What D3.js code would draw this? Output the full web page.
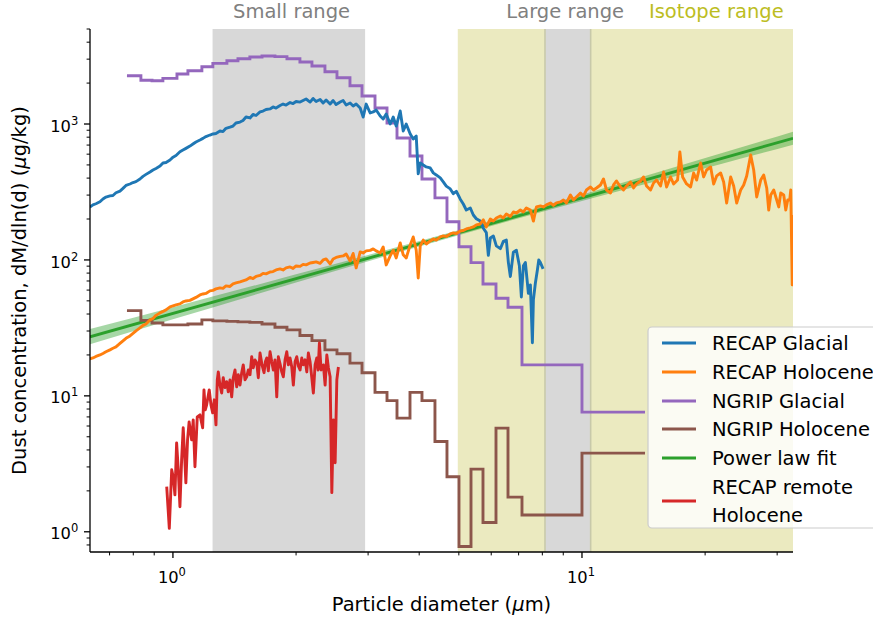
<!DOCTYPE html>
<html><head><meta charset="utf-8">
<script src="https://cdn.jsdelivr.net/npm/d3@7"></script>
<style>body{margin:0;background:#fff} svg{display:block;font-family:"DejaVu Sans",sans-serif}</style>
</head><body><svg id="chart" width="873" height="620"></svg>
<script>
// ---------------- data ----------------
const xDomain = [0.627, 32.8];
const yDomain = [0.71, 5000];
const yMajorTicks = [1, 10, 100, 1000];
const xMajorTicks = [1, 10];

const smallRange = [1.25, 2.95];
const largeRange = [8.12, 10.5];
const isotopeRange = [4.97, 32.8];
const rangeLabels = ["Small range", "Large range", "Isotope range"];
const rangeLabelX = [1.95, 9.1, 21.3];

const seriesNames = ["RECAP Glacial", "RECAP Holocene", "NGRIP Glacial", "NGRIP Holocene", "Power law fit", "RECAP remote\nHolocene"];
const seriesColors = ["#1f77b4", "#ff7f0e", "#9467bd", "#8c564b", "#2ca02c", "#d62728"];

// NGRIP (Coulter counter) bin edges, µm
const ngripEdges = [0.772,0.835,0.889,0.945,1.023,1.088,1.177,1.252,1.355,1.442,1.542,1.651,1.776,1.900,2.044,2.187,2.353,2.518,2.709,2.899,3.119,3.337,3.530,3.798,4.063,4.371,4.677,5.004,5.354,5.728,6.163,6.594,7.134,10.0,14.26];
const ngripGlacial = [2265,2100,2080,2168,2331,2466,2638,2795,2920,3020,3109,3162,3133,3020,2858,2670,2424,2190,1912,1607,1311,1017,789,582,394,286,191,125,95.5,66.6,52.3,44.9,16.9,7.59];
const ngripHolocene = [42.4,35.9,34.4,33.3,33.3,33.8,36.2,35.6,35.3,35.0,34.7,33.8,32.0,30.6,27.8,25.5,21.8,20.4,17.4,14.8,10.6,9.23,6.86,10.6,9.23,4.61,2.54,0.78,2.89,1.17,5.79,1.80,1.33,3.79];

// RECAP Glacial
const recapGlacialX = [0.6267,0.6374,0.6483,0.6631,0.6744,0.6859,0.7015,0.7135,0.7256,0.7422,0.7549,0.7677,0.7852,0.7986,0.8122,0.8307,0.8449,0.8593,0.8789,0.8939,0.9091,0.9298,0.9457,0.9618,0.9837,1.0005,1.0175,1.0402,1.0580,1.0760,1.1005,1.1193,1.1384,1.1643,1.1842,1.2043,1.2318,1.2529,1.2742,1.3032,1.3255,1.3480,1.3788,1.4024,1.4262,1.4587,1.4836,1.5089,1.5433,1.5697,1.5964,1.6328,1.6607,1.6890,1.7275,1.7570,1.7869,1.8276,1.8589,1.8905,1.9336,1.9667,2.0001,2.0457,2.0807,2.1161,2.1643,2.2013,2.2388,2.2898,2.3290,2.3686,2.4226,2.4640,2.5059,2.5631,2.6069,2.6513,2.7117,2.7581,2.8050,2.8689,2.9180,2.9676,3.0353,3.0872,3.1397,3.2113,3.2662,3.3218,3.3975,3.4556,3.5144,3.5945,3.6560,3.7182,3.8029,3.8679,3.9337,3.978,4.0234,4.0922,4.1618,4.2567,4.3295,4.4032,4.5035,4.5805,4.6585,4.7647,4.8462,4.9287,5.0409,5.1271,5.2143,5.3332,5.4244,5.5167,5.6425,5.7390,5.8366,5.903,5.9697,6.0718,6.1751,6.3158,6.4238,6.5331,6.607,6.6820,6.7963,6.9119,7.030,7.109,7.1904,7.272,7.396,7.4794,7.564,7.6073,7.693,7.780,7.841,7.9131,8.034];
const recapGlacial = [245,254,259,268,281,290,296,298,312,321,336,353,362,371,377,394,412,426,444,459,471,490,517,521,544,570,587,625,644,662,688,713,738,763,784,809,830,845,852,888,880,929,947,966,1017,1034,1062,1126,1108,1176,1155,1227,1246,1279,1291,1334,1311,1368,1402,1379,1438,1414,1463,1450,1489,1527,1450,1541,1463,1514,1426,1502,1402,1489,1391,1450,1489,1379,1426,1357,1402,1311,1126,1402,1205,1227,1268,1146,1089,1185,1000,1126,966,1246,888,1000,845,776,815,430,517,499,483,475,437,422,401,375,349,333,307,320,280,258,233,241,214,201,193,171,159,108,145,150,127,121,137,140,96,75.6,114,118,90.5,53.4,90.5,95.6,56.8,65.5,24.6,50.8,67.7,84.4,100,95.6,86];

// RECAP Holocene
const recapHoloceneX = [0.6267,0.6374,0.6483,0.6631,0.6744,0.6859,0.7015,0.7135,0.7256,0.7422,0.7549,0.7677,0.7852,0.7986,0.8122,0.8307,0.8449,0.8593,0.8789,0.8939,0.9091,0.9298,0.9457,0.9618,0.9837,1.0005,1.0175,1.0402,1.0580,1.0760,1.1005,1.1193,1.1384,1.1643,1.1842,1.2043,1.2318,1.2529,1.2742,1.3032,1.3255,1.3480,1.3788,1.4024,1.4262,1.4587,1.4836,1.5089,1.5433,1.5697,1.5964,1.6328,1.6607,1.6890,1.7275,1.7570,1.7869,1.8276,1.8589,1.8905,1.9336,1.9667,2.0001,2.0457,2.0807,2.1161,2.1643,2.2013,2.2388,2.2898,2.3290,2.3686,2.4226,2.4640,2.5059,2.5631,2.6069,2.6513,2.7117,2.7581,2.8050,2.8689,2.9180,2.9676,3.0353,3.0872,3.1397,3.2113,3.2662,3.3218,3.3975,3.4556,3.5144,3.5945,3.6560,3.7182,3.8029,3.8679,3.9337,3.978,4.0234,4.0922,4.1618,4.2567,4.3295,4.4032,4.5035,4.5805,4.6585,4.7647,4.8462,4.9287,5.0409,5.1271,5.2143,5.3332,5.4244,5.5167,5.6425,5.7390,5.8366,5.9697,6.0718,6.1751,6.3158,6.4238,6.5331,6.6820,6.7963,6.9119,7.0695,7.1904,7.3127,7.4794,7.6073,7.7368,7.9131,8.0484,8.1854,8.3720,8.5152,8.6600,8.8574,9.0089,9.1622,9.3710,9.5312,9.6934,9.9144,10.084,10.256,10.489,10.669,10.850,11.098,11.287,11.480,11.741,11.942,12.146,12.422,12.634,12.850,13.142,13.367,13.594,13.905,14.143,14.383,14.711,14.963,15.217,15.564,15.830,16.100,16.466,16.748,17.128,17.35,17.62,18.020,18.431,18.746,19.065,19.500,19.833,20.171,20.631,20.984,21.341,21.827,22.200,22.578,23.093,23.488,23.888,24.432,24.850,25.273,25.849,26.291,26.738,27.348,27.816,28.289,28.61,28.933,29.428,29.929,30.27,30.611,31.134,31.49,31.84,32.20,32.39,32.66,32.8];
const recapHolocene = [18.7,19.0,19.5,20.0,20.5,21.1,21.8,22.4,22.9,24.3,25.4,26.5,27.6,28.8,30.1,31.6,33.0,33.8,36.2,37.1,39.1,40.8,41.8,42.9,45.1,45.9,46.7,47.5,49.1,49.9,50.4,51.7,53.0,55.3,56.2,56.7,59.2,59.7,61.2,62.3,61.8,64.4,63.8,66.6,67.7,68.9,70.1,71.3,74.3,73.0,75.6,76.9,79.6,78.9,81.6,82.1,84.4,85.9,84.4,87.4,88.8,86.6,90.3,89.6,92.7,91.9,95.0,95.8,96.7,94.3,100,101.7,93.4,101.7,104.3,106.1,107.0,110.7,98.3,111.6,87.4,114.5,112.6,116.5,117.5,120.5,116.5,112.6,124.6,91.9,107.0,118,103.4,133.4,109,103.4,129,147.6,118,73.7,127,140,131,138,142.7,140,147.6,150.1,148.9,155.3,157.9,156.6,163.4,164.7,169.0,171.9,174.8,181,183.9,197,174.8,200.2,193.5,203.6,210.7,203.6,217.9,208.9,225.4,221.6,233,225.4,241.2,233,193,245.3,249.5,245.3,254,262.5,251.6,262.5,267.0,276,262.5,300.6,276,290.6,310.9,295.6,327,344.2,327,338.4,356,394.1,327,310.9,356,381,344.2,327,350.2,374.6,338.4,362.2,381,407.8,350.2,327,368.4,387,350.2,443.7,344.2,407.8,362.2,387,622.6,407.8,362.2,344.2,436.2,387,516.8,407.8,459,483,362.2,414.8,436.2,374.6,262.5,407.8,350.2,262.5,327,356,414.8,592,459,290.6,387,421.7,338.4,233,300.6,327,276,245.3,310.9,300.6,233,276,276,327,65.5,214];

// RECAP remote Holocene
const recapRemoteX = [0.9656,0.9798,0.9931,1.0029,1.0113,1.0210,1.0306,1.0402,1.0502,1.0596,1.0679,1.0756,1.0858,1.0954,1.1111,1.121,1.132,1.1468,1.1643,1.1822,1.191,1.1997,1.2091,1.2269,1.2388,1.2508,1.262,1.2742,1.2837,1.2909,1.3032,1.3157,1.3274,1.3405,1.3534,1.3655,1.3788,1.392,1.4045,1.4182,1.4319,1.4447,1.4587,1.4727,1.4858,1.5004,1.5149,1.5284,1.5433,1.5581,1.572,1.5874,1.6027,1.6171,1.6328,1.6513,1.67,1.6824,1.6957,1.7109,1.7275,1.7441,1.7596,1.7769,1.794,1.8101,1.8276,1.8451,1.8616,1.8799,1.898,1.915,1.9336,1.9522,1.9696,1.9889,2.0081,2.026,2.0457,2.0653,2.0838,2.1042,2.1245,2.1435,2.1643,2.1851,2.2046,2.2262,2.2476,2.2643,2.2807,2.3028,2.3324,2.3553,2.378,2.3993,2.4226,2.4459,2.4677,2.4919,2.5159,2.5384];
const recapRemote = [2.15,1.06,2.86,2.49,1.87,4.51,2.86,1.53,3.38,5.82,3.68,2.29,4.75,6.44,4.75,6.66,3.01,7.01,7.25,5.82,11.07,7.89,8.59,11.07,8.59,7.50,9.35,6.12,13.1,15.0,12.0,10.5,13.6,11.5,12.7,10.7,13.1,9.83,13.6,15.5,11.65,14.3,12.0,14.8,16.9,13.1,13.8,15.5,14.3,19.4,16.1,18.4,17.5,13.6,20.7,16.9,14.8,17.8,19.0,15.3,21.1,17.8,15.5,18.4,9.83,19.4,17.2,15.0,13.8,18.4,21.1,16.9,19.0,16.3,12.0,17.8,19.4,16.6,15.5,19.0,16.9,18.4,15.0,20.7,17.8,13.6,10.5,16.9,19.0,15.5,24.5,15.5,16.9,12.0,20.0,16.1,13.8,1.94,6.66,3.22,13.1,16.3];

// Power law fit (line end points) and its confidence band
const fitX = [0.627, 32.8];
const fitY = [27.2, 785];
const fitBandX = [0.627, 1, 2, 3.5, 5.3, 8, 14, 22, 32.8];
const fitBandLow = [24.0, 36.6, 68.2, 111.9, 160.1, 225.9, 355.7, 510.9, 703.8];
const fitBandHigh = [31.0, 44.9, 78.3, 123.3, 174.2, 248.7, 408.2, 611.6, 877.0];

// ---------------- drawing ----------------
const W = 873, H = 620;
const M = {left: 90, right: 80, top: 29, bottom: 68};
const svg = d3.select("#chart");
const x = d3.scaleLog().domain(xDomain).range([M.left, W - M.right]);
const y = d3.scaleLog().domain(yDomain).range([H - M.bottom, M.top]);
const LW = 2.9;

svg.append("defs").append("clipPath").attr("id", "clip")
  .append("rect").attr("x", M.left).attr("y", M.top)
  .attr("width", W - M.left - M.right).attr("height", H - M.top - M.bottom);

const bands = svg.append("g");
function band(r, fill) {
  return bands.append("rect").attr("x", x(r[0])).attr("y", M.top)
    .attr("width", x(r[1]) - x(r[0])).attr("height", H - M.top - M.bottom).attr("fill", fill);
}
band(isotopeRange, "rgb(235,234,192)");
band(smallRange, "rgb(216,216,216)");
band(largeRange, "rgb(216,216,216)");
[largeRange[0], largeRange[1]].forEach(v => {
  bands.append("line").attr("x1", x(v)).attr("x2", x(v)).attr("y1", M.top).attr("y2", H - M.bottom)
    .attr("stroke", "rgb(200,201,170)").attr("stroke-width", 1.6);
});

const rangeColors = ["#808080", "#808080", "#bcbd22"];
rangeLabels.forEach((t, i) => {
  svg.append("text").attr("x", x(rangeLabelX[i])).attr("y", 18).attr("text-anchor", "middle")
    .attr("font-size", 19.5).attr("fill", rangeColors[i]).text(t);
});

const plot = svg.append("g").attr("clip-path", "url(#clip)");
const line = d3.line().x(d => x(d[0])).y(d => y(d[1]));
const stepLine = d3.line().x(d => x(d[0])).y(d => y(d[1])).curve(d3.curveStepAfter);

// fit band + fit line
const bandData = fitBandX.map((v, i) => [v, fitBandLow[i], fitBandHigh[i]]);
plot.append("path").datum(bandData)
  .attr("d", d3.area().x(d => x(d[0])).y0(d => y(d[1])).y1(d => y(d[2])).curve(d3.curveMonotoneX))
  .attr("fill", "#2ca02c").attr("fill-opacity", 0.42);
plot.append("path").datum(d3.zip(fitX, fitY)).attr("d", line)
  .attr("fill", "none").attr("stroke", seriesColors[4]).attr("stroke-width", LW);

function stepData(edges, vals) {
  const pts = vals.map((v, i) => [edges[i], v]);
  pts.push([edges[edges.length - 1], vals[vals.length - 1]]);
  return pts;
}
plot.append("path").datum(stepData(ngripEdges, ngripGlacial)).attr("d", stepLine)
  .attr("fill", "none").attr("stroke", seriesColors[2]).attr("stroke-width", LW);
plot.append("path").datum(stepData(ngripEdges, ngripHolocene)).attr("d", stepLine)
  .attr("fill", "none").attr("stroke", seriesColors[3]).attr("stroke-width", LW);

[[recapGlacialX, recapGlacial, 0], [recapHoloceneX, recapHolocene, 1], [recapRemoteX, recapRemote, 5]].forEach(([xs, vs, c]) => {
  plot.append("path").datum(d3.zip(xs, vs)).attr("d", line)
    .attr("fill", "none").attr("stroke", seriesColors[c]).attr("stroke-width", LW)
    .attr("stroke-linejoin", "round");
});

// ---------------- axes ----------------
const axisG = svg.append("g");
const x0 = M.left, y0 = H - M.bottom;
axisG.append("line").attr("x1", x0).attr("x2", x0).attr("y1", M.top).attr("y2", y0)
  .attr("stroke", "#000").attr("stroke-width", 1.3);
axisG.append("line").attr("x1", x0).attr("x2", W - M.right).attr("y1", y0).attr("y2", y0)
  .attr("stroke", "#000").attr("stroke-width", 1.3);

function minorTicks(domain) {
  const out = [];
  for (let e = -2; e <= 5; e++) for (let m = 2; m <= 9; m++) {
    const v = m * Math.pow(10, e);
    if (v >= domain[0] * 0.999 && v <= domain[1] * 1.001) out.push(v);
  }
  return out;
}
const TL = 6, TLm = 3.4, PAD = 5.7, TFS = 16.3;
minorTicks(yDomain).forEach(v => axisG.append("line").attr("x1", x0 - TLm).attr("x2", x0)
  .attr("y1", y(v)).attr("y2", y(v)).attr("stroke", "#000").attr("stroke-width", 1));
minorTicks(xDomain).forEach(v => axisG.append("line").attr("y1", y0).attr("y2", y0 + TLm)
  .attr("x1", x(v)).attr("x2", x(v)).attr("stroke", "#000").attr("stroke-width", 1));

yMajorTicks.forEach(v => {
  axisG.append("line").attr("x1", x0 - TL).attr("x2", x0).attr("y1", y(v)).attr("y2", y(v))
    .attr("stroke", "#000").attr("stroke-width", 1.3);
  const t = axisG.append("text").attr("x", x0 - TL - PAD).attr("y", y(v) + 7.6)
    .attr("text-anchor", "end").attr("font-size", TFS).attr("fill", "#000");
  t.append("tspan").text("10");
  t.append("tspan").attr("dy", -7).attr("font-size", 11.5).text(Math.round(Math.log10(v)));
});
xMajorTicks.forEach(v => {
  axisG.append("line").attr("x1", x(v)).attr("x2", x(v)).attr("y1", y0).attr("y2", y0 + TL)
    .attr("stroke", "#000").attr("stroke-width", 1.3);
  const t = axisG.append("text").attr("x", x(v) - 1).attr("y", 582.5)
    .attr("text-anchor", "middle").attr("font-size", TFS).attr("fill", "#000");
  t.append("tspan").text("10");
  t.append("tspan").attr("dy", -7).attr("font-size", 11.5).text(Math.round(Math.log10(v)));
});

// axis labels
const xl = svg.append("text").attr("x", (M.left + W - M.right) / 2).attr("y", 611)
  .attr("text-anchor", "middle").attr("font-size", 19.5);
xl.append("tspan").text("Particle diameter (");
xl.append("tspan").attr("font-style", "italic").text("μ");
xl.append("tspan").text("m)");

const yl = svg.append("text").attr("transform", `translate(26,${(M.top + y0) / 2}) rotate(-90)`)
  .attr("text-anchor", "middle").attr("font-size", 19.5);
yl.append("tspan").text("Dust concentration, dM/dln(d) (");
yl.append("tspan").attr("font-style", "italic").text("μ");
yl.append("tspan").text("g/kg)");

// ---------------- legend ----------------
const lg = svg.append("g");
lg.append("rect").attr("x", 648).attr("y", 327).attr("width", 245).attr("height", 201).attr("rx", 4)
  .attr("fill", "#fff").attr("fill-opacity", 0.8).attr("stroke", "#cccccc").attr("stroke-width", 1.2);
const rowY = [343, 372, 401, 429, 458, 501];
seriesNames.forEach((name, i) => {
  lg.append("line").attr("x1", 662).attr("x2", 696).attr("y1", rowY[i]).attr("y2", rowY[i])
    .attr("stroke", seriesColors[i]).attr("stroke-width", LW);
  const parts = name.split("\n");
  const t = lg.append("text").attr("font-size", 19.5).attr("fill", "#000");
  parts.forEach((p, k) => {
    t.append("tspan").attr("x", 712)
      .attr("y", rowY[i] + 7 + (k - (parts.length - 1) / 2) * 28).text(p);
  });
});
</script></body></html>
